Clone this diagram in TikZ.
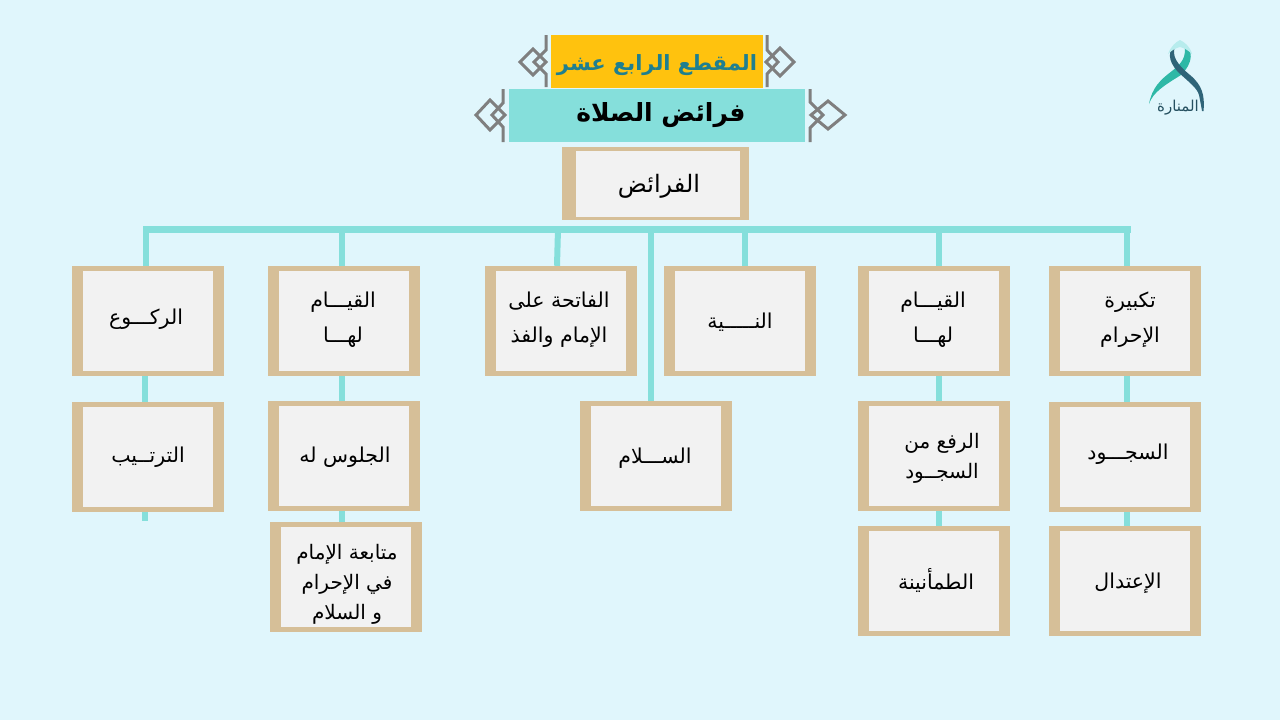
\documentclass[tikz,border=0pt]{standalone}
\usepackage{fontspec}
\newfontfamily\arabicfont[Script=Arabic]{DejaVu Sans}
\TeXXeTstate=1
\definecolor{skyc}{HTML}{E0F6FC}
\definecolor{tanc}{HTML}{D6BF98}
\definecolor{paperc}{HTML}{F2F2F2}
\definecolor{tealc}{HTML}{85DFDB}
\definecolor{goldc}{HTML}{FFC20E}
\definecolor{inkc}{HTML}{1F7F8F}
\definecolor{greyc}{HTML}{7F7F7F}
\definecolor{logoa}{HTML}{2EB8A6}
\definecolor{logob}{HTML}{2F6478}
\newcommand{\ar}[1]{\arabicfont\beginR #1\endR}
\tikzset{
  framebox/.style={fill=tanc, inner sep=0pt, minimum width=152pt, minimum height=110pt,
    path picture={\fill[paperc] ([shift={(11pt,5pt)}]path picture bounding box.south west)
      rectangle ([shift={(-11pt,-5pt)}]path picture bounding box.north east);}},
  boxtext/.style={align=center, inner sep=0pt, font=\fontsize{20.5}{35}\selectfont},
  tighttext/.style={boxtext, font=\fontsize{20}{30}\selectfont},
  rail/.style={draw=tealc, line width=6pt},
  ornament/.style={draw=greyc, line width=3pt}
}
\begin{document}
\begin{tikzpicture}[x=1pt, y=-1pt]
\useasboundingbox (0,0) rectangle (1280,720);
\fill[skyc] (0,0) rectangle (1280,720);
% rails first, the boxes sit on top
\coordinate (railleft) at (146,229);
\coordinate (railright) at (1127,229);
\node[framebox] (rukoo) at (148,321) {};
\node[framebox] (tartib) at (148,457) {};
\node[framebox] (qiyama) at (343.5,321) {};
\node[framebox] (julus) at (343.5,456) {};
\node[framebox] (mutaba) at (345.5,577) {};
\node[framebox] (fatiha) at (560.5,321) {};
\node[framebox] (niyya) at (740,321) {};
\node[framebox] (salam) at (655.5,456) {};
\node[framebox] (qiyamb) at (933.5,321) {};
\node[framebox] (rafa) at (933.5,456) {};
\node[framebox] (tuma) at (933.5,581) {};
\node[framebox] (takbira) at (1125,321) {};
\node[framebox] (sujud) at (1125,457) {};
\node[framebox] (itidal) at (1125,581) {};
\node[fill=tanc, inner sep=0pt, minimum width=187pt, minimum height=73pt] (faraid) at (655.5,183.5) {};
\fill[paperc] (576,151) rectangle (740,217);
\coordinate (tartibend) at (145,521);
\draw[rail, line width=7pt, line cap=rect] (railleft) -- (railright);
\draw[rail] (railleft) -- (railleft |- rukoo.north);
\draw[rail] (342,229) -- (342 ,266);
\draw[rail] ([xshift=-1.5pt]qiyama.south) -- ([xshift=-1.5pt]julus.north);
\draw[rail] ([xshift=-1.5pt]julus.south) -- ([xshift=-3.5pt]mutaba.north);
\draw[rail] ([xshift=-3pt]rukoo.south) -- ([xshift=-3pt]tartib.north);
\draw[rail] ([xshift=-3pt]tartib.south) -- (tartibend);
\draw[rail] (558,229) -- ([xshift=-3.5pt]fatiha.north);
\draw[rail] (651,229) -- ([xshift=-4.5pt]salam.north);
\draw[rail] (745,229) -- ([xshift=5pt]niyya.north);
\draw[rail] (939,229) -- ([xshift=5.5pt]qiyamb.north);
\draw[rail] ([xshift=5.5pt]qiyamb.south) -- ([xshift=5.5pt]rafa.north);
\draw[rail] ([xshift=5.5pt]rafa.south) -- ([xshift=5.5pt]tuma.north);
\draw[rail] (railright) -- (railright |- takbira.north);
\draw[rail] ([xshift=2pt]takbira.south) -- ([xshift=2pt]sujud.north);
\draw[rail] ([xshift=2pt]sujud.south) -- ([xshift=2pt]itidal.north);
% titles
\node[fill=goldc, inner sep=0pt, minimum width=212pt, minimum height=53pt] (lesson) at (657,61.5) {};
\node[fill=tealc, inner sep=0pt, minimum width=296pt, minimum height=53pt] (topic) at (657,115.5) {};
\node[text=inkc, font=\fontsize{21}{24}\selectfont\bfseries] (lessontext) at (657,65) {\ar{المقطع الرابع عشر}};
\node[font=\fontsize{25}{28}\selectfont\bfseries] (topictext) at (661,115) {\ar{فرائض الصلاة}};
\draw[ornament] (546,35) -- (546,50) -- (534,62) -- (546,74) -- (546,87);
\draw[ornament] (520,62) -- (533,49) -- (546,62) -- (533,75) -- cycle;
\draw[ornament] (767,35) -- (767,50) -- (778,62) -- (767,74) -- (767,87);
\draw[ornament] (766,62) -- (780,48) -- (794,62) -- (780,76) -- cycle;
\draw[ornament] (503,89) -- (503,103) -- (492,115) -- (503,127) -- (503,142);
\draw[ornament] (476,115) -- (490,100) -- (505,115) -- (490,130) -- cycle;
\draw[ornament] (810,89) -- (810,102) -- (823,115) -- (810,128) -- (810,142);
\draw[ornament] (811,115) -- (828,101) -- (845,115) -- (828,129) -- cycle;
% box texts
\node[boxtext, font=\fontsize{24}{35}\selectfont] (faraidtext) at (659,186) {\ar{الفرائض}};
\node[boxtext] (rukootext) at (146,319) {\ar{الركـــوع}};
\node[boxtext] (tartibtext) at (148,457) {\ar{الترتــيب}};
\node[boxtext] (qiyamatext) at (343,320) {\ar{القيـــام}\\\ar{لهـــا}};
\node[boxtext] (julustext) at (345,457) {\ar{الجلوس له}};
\node[tighttext] (mutabatext) at (347,584) {\ar{متابعة الإمام}\\\ar{في الإحرام}\\\ar{و السلام}};
\node[boxtext] (fatihatext) at (559,320) {\ar{الفاتحة على}\\\ar{الإمام والفذ}};
\node[boxtext] (niyyatext) at (740,322) {\ar{النـــــية}};
\node[boxtext] (salamtext) at (655,458) {\ar{الســـلام}};
\node[boxtext] (qiyambtext) at (933,320) {\ar{القيـــام}\\\ar{لهـــا}};
\node[tighttext] (rafatext) at (942,458) {\ar{الرفع من}\\\ar{السجــود}};
\node[boxtext] (tumatext) at (936,580) {\ar{الطمأنينة}};
\node[boxtext] (takbiratext) at (1130,320) {\ar{تكبيرة}\\\ar{الإحرام}};
\node[boxtext] (sujudtext) at (1128,454) {\ar{السجـــود}};
\node[boxtext] (itidaltext) at (1128,583) {\ar{الإعتدال}};
% logo
\fill[logoa] (1149,104) .. controls (1152,88) and (1160,80) .. (1172,71) .. controls (1182,63) and (1187,57) .. (1184,44) .. controls (1193,50) and (1194,62) .. (1181,75) .. controls (1165,85) and (1153,92) .. (1149,104);
\fill[logob] (1176,44) .. controls (1168,50) and (1167,60) .. (1178,72) .. controls (1190,83) and (1197,88) .. (1199,95) .. controls (1200,100) and (1201,105) .. (1202,111) -- (1203.5,111) .. controls (1205,95) and (1202,85) .. (1190,75) .. controls (1178,65) and (1170,56) .. (1176,44);
\fill[tealc!45!skyc] (1168,54) .. controls (1171,46) and (1176,42) .. (1180,40) .. controls (1184,42) and (1190,46) .. (1192,54) .. controls (1188,50) and (1184,48) .. (1180,47) .. controls (1176,48) and (1172,50) .. (1168,54);
\node[text=logob!80!black, font=\fontsize{15}{18}\selectfont] (logotext) at (1178,108) {\ar{المنارة}};
\end{tikzpicture}
\end{document}
